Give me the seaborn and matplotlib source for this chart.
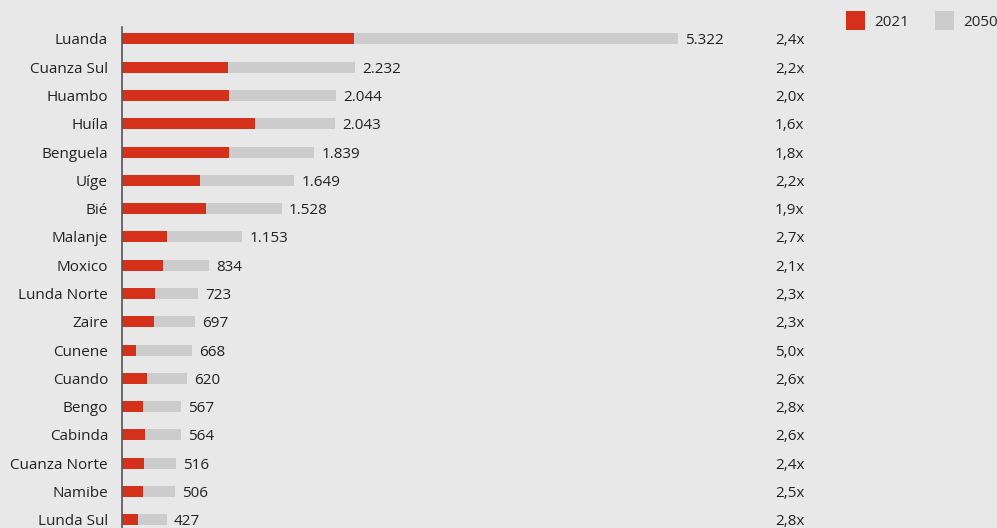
import pandas as pd
import numpy as np
import seaborn as sns
import matplotlib.pyplot as plt
from matplotlib.patches import Patch

# Data (population, thousands)
provinces = ['Luanda', 'Cuanza Sul', 'Huambo', 'Huíla', 'Benguela', 'Uíge', 'Bié',
             'Malanje', 'Moxico', 'Lunda Norte', 'Zaire', 'Cunene', 'Cuando', 'Bengo',
             'Cabinda', 'Cuanza Norte', 'Namibe', 'Lunda Sul']
pop_2050 = [5322, 2232, 2044, 2043, 1839, 1649, 1528, 1153, 834, 723, 697, 668, 620, 567,
            564, 516, 506, 427]
pop_2021 = [2217, 1015, 1022, 1277, 1022, 750, 804, 427, 397, 314, 303, 134, 238, 202,
            217, 215, 202, 152]
growth = ['2,4x', '2,2x', '2,0x', '1,6x', '1,8x', '2,2x', '1,9x', '2,7x', '2,1x', '2,3x',
          '2,3x', '5,0x', '2,6x', '2,8x', '2,6x', '2,4x', '2,5x', '2,8x']

RED = '#d4301a'
GREY = '#cccccc'
BG = '#e8e8e8'
TXT = '#222222'

df = pd.DataFrame({'Provincia': provinces, '2050': pop_2050, '2021': pop_2021, 'Cresc': growth})

sns.set_theme(style='white', rc={'axes.facecolor': BG, 'figure.facecolor': BG})
plt.rcParams['font.family'] = ['Open Sans', 'DejaVu Sans']

fig = plt.figure(figsize=(9.97, 5.28), dpi=100)
ax = fig.add_axes([122 / 997, -6 / 528, 875 / 997, 507 / 528])

sns.barplot(data=df, y='Provincia', x='2050', color=GREY, width=0.39, ax=ax,
            saturation=1, linewidth=0)
sns.barplot(data=df, y='Provincia', x='2021', color=RED, width=0.39, ax=ax,
            saturation=1, linewidth=0)

ax.set_xlim(0, 8376)
ax.set_ylim(len(provinces) - 0.5, -0.42)

# value labels for 2050
for i, v in enumerate(pop_2050):
    ax.text(v + 70, i, f'{v:,}'.replace(',', '.'), va='center_baseline', ha='left',
            fontsize=11, color=TXT)

# growth multiplier column
for i, g in enumerate(growth):
    ax.text(0.746, i, g, transform=ax.get_yaxis_transform(), va='center_baseline',
            ha='left', fontsize=11, color=TXT)

ax.set_xlabel('')
ax.set_ylabel('')
ax.set_xticks([])
ax.tick_params(axis='y', length=0, pad=10, labelsize=11, labelcolor=TXT)
for lbl in ax.get_yticklabels():
    lbl.set_verticalalignment('center_baseline')
for s in ['top', 'right', 'bottom']:
    ax.spines[s].set_visible(False)
ax.spines['left'].set_color('#555555')
ax.spines['left'].set_linewidth(1.2)

handles = [Patch(facecolor=RED, edgecolor='none', label='2021'),
           Patch(facecolor=GREY, edgecolor='none', label='2050')]
fig.legend(handles=handles, loc='upper right', bbox_to_anchor=(1.012, 1.0), ncol=2,
           frameon=False, fontsize=11, handlelength=1.25, handleheight=1.6,
           columnspacing=1.7, handletextpad=0.6, borderaxespad=0.3)

fig.savefig('out.png', dpi=100, facecolor=BG)
